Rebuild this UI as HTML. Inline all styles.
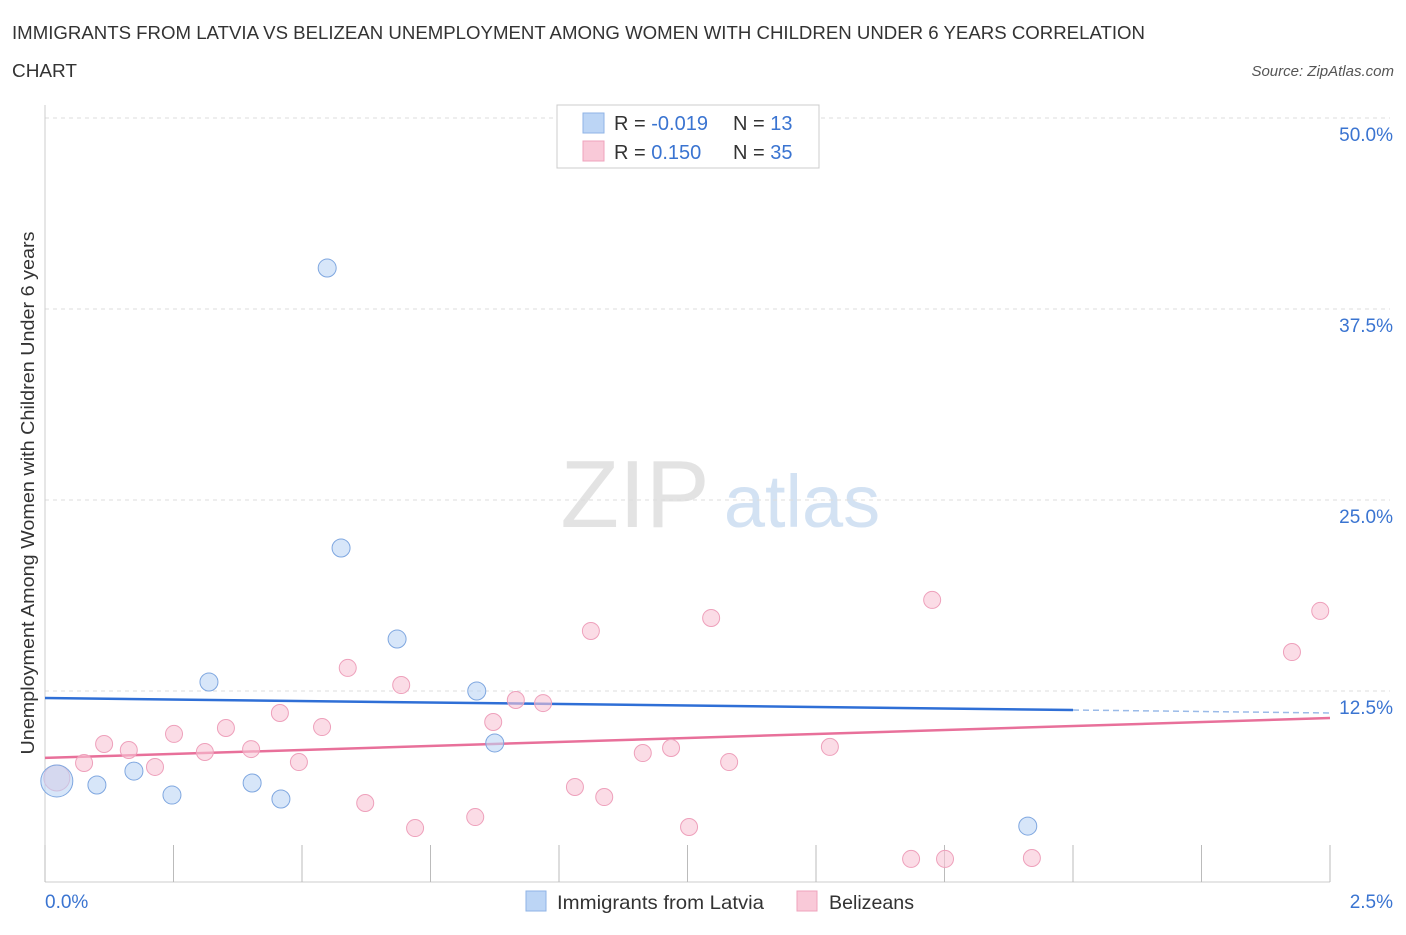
<!DOCTYPE html>
<html><head><meta charset="utf-8"><style>
body{margin:0;background:#fff;font-family:"Liberation Sans",sans-serif;}
svg text{font-family:"Liberation Sans",sans-serif;}
</style></head><body>
<svg id="chart" width="1406" height="930" viewBox="0 0 1406 930" xmlns="http://www.w3.org/2000/svg">
<text x="12" y="39" font-size="18.5" fill="#333" textLength="1133" lengthAdjust="spacingAndGlyphs">IMMIGRANTS FROM LATVIA VS BELIZEAN UNEMPLOYMENT AMONG WOMEN WITH CHILDREN UNDER 6 YEARS CORRELATION</text>
<text x="12" y="77" font-size="18.5" fill="#333" textLength="65" lengthAdjust="spacingAndGlyphs">CHART</text>
<text x="1394" y="76" font-size="15" fill="#555" font-style="italic" text-anchor="end">Source: ZipAtlas.com</text>
<g>
<text x="635" y="527" font-size="96" fill="#e3e3e3" text-anchor="middle" font-family="Liberation Serif,serif">ZIP</text>
<text x="802" y="527" font-size="74" fill="#d3e2f3" text-anchor="middle">atlas</text>
</g>
<g id="grid"></g>
<g id="axes"></g>
<g id="trends"></g>
<g id="points"></g>
<text transform="translate(34,493) rotate(-90)" font-size="18.5" fill="#333" text-anchor="middle" textLength="523" lengthAdjust="spacingAndGlyphs">Unemployment Among Women with Children Under 6 years</text>
<g>
<rect x="557" y="105" width="262" height="63" fill="#fff" stroke="#ccc"/>
<rect x="583" y="113" width="21" height="20" fill="#bcd5f5" stroke="#8fb3e6"/>
<rect x="583" y="141" width="21" height="20" fill="#f9c9d8" stroke="#efa3bc"/>
<text x="614" y="130" font-size="20" fill="#333">R = <tspan fill="#3a74d1">-0.019</tspan></text>
<text x="733" y="130" font-size="20" fill="#333">N = <tspan fill="#3a74d1"> 13</tspan></text>
<text x="614" y="159" font-size="20" fill="#333">R = <tspan fill="#3a74d1">  0.150</tspan></text>
<text x="733" y="159" font-size="20" fill="#333">N = <tspan fill="#3a74d1">35</tspan></text>
</g>
<g>
<rect x="526" y="891" width="20" height="20" fill="#bcd5f5" stroke="#8fb3e6"/>
<text x="557" y="909" font-size="19.5" fill="#333" textLength="207" lengthAdjust="spacingAndGlyphs">Immigrants from Latvia</text>
<rect x="797" y="891" width="20" height="20" fill="#f9c9d8" stroke="#efa3bc"/>
<text x="829" y="909" font-size="19.5" fill="#333" textLength="85" lengthAdjust="spacingAndGlyphs">Belizeans</text>
</g>
</svg>
<script>
const xTickLabels=["0.0%","2.5%"];
const yTicks=[12.5,25,37.5,50];
const yTickLabels=["12.5%","25.0%","37.5%","50.0%"];
const latviaX=[0.023,0.101,0.173,0.247,0.319,0.403,0.459,0.549,0.576,0.685,0.840,0.875,1.912];
const latviaY=[6.61,6.35,7.26,5.69,13.09,6.48,5.43,40.18,21.86,15.90,12.50,9.10,3.66];
const latviaR=[16,9,9,9,9,9,9,9,9,9,9,9,9];
const belizeX=[0.023,0.076,0.115,0.163,0.214,0.251,0.311,0.352,0.401,0.457,0.494,0.539,0.589,0.623,0.693,0.720,0.837,0.872,0.916,0.969,1.031,1.062,1.088,1.163,1.218,1.253,1.296,1.331,1.527,1.685,1.726,1.751,1.920,2.426,2.481];
const belizeY=[6.81,7.79,9.03,8.64,7.53,9.69,8.51,10.08,8.70,11.06,7.85,10.14,14.01,5.17,12.89,3.53,4.25,10.47,11.91,11.71,6.22,16.43,5.56,8.44,8.77,3.60,17.28,7.85,8.84,1.51,18.46,1.51,1.57,15.05,17.74];
const latviaTrend=[12.04,11.06];
const belizeTrend=[8.12,10.73];
const NS="http://www.w3.org/2000/svg";
const X0=45,X1=1330,Y0=882,Y1=118;
const sx=v=>X0+(v/2.5)*(X1-X0);
const sy=v=>Y0-(v/50)*(Y0-Y1);
function mk(tag,attrs,parent){const e=document.createElementNS(NS,tag);for(const k in attrs)e.setAttribute(k,attrs[k]);document.getElementById(parent).appendChild(e);return e;}
yTicks.forEach((t,i)=>{
 const l=mk('line',{x1:X0,x2:X1+60,y1:sy(t),y2:sy(t),stroke:'#ddd','stroke-dasharray':'4,4'},'grid');
 
 
 const tx=mk('text',{x:1393,y:sy(t)+23,'font-size':19,fill:'#3a74d1','text-anchor':'end'},'grid');
 tx.textContent=yTickLabels[i];
 
 
});
const ax=mk('line',{x1:X0,x2:X0,y1:105,y2:Y0,stroke:'#ccc'},'axes');


const bx=mk('line',{x1:X0,x2:X1,y1:Y0,y2:Y0,stroke:'#ccc'},'axes');


for(let i=0;i<=10;i++){const v=i*0.25;
 const t=mk('line',{x1:sx(v),x2:sx(v),y1:845,y2:Y0,stroke:'#bbb'},'axes');
 
 }
[[0,'start',45],[2.5,'end',1393]].forEach((d,i)=>{
 const t=mk('text',{x:d[2],y:908,'font-size':19,fill:'#3a74d1','text-anchor':d[1]},'axes');
 t.textContent=xTickLabels[i];
 
 });
const ly=v=>latviaTrend[0]+(latviaTrend[1]-latviaTrend[0])*v/2.5;
const by=v=>belizeTrend[0]+(belizeTrend[1]-belizeTrend[0])*v/2.5;
let tl=mk('line',{x1:sx(0),y1:sy(ly(0)),x2:sx(2.0),y2:sy(ly(2.0)),stroke:'#2f6fd6','stroke-width':2.5},'trends');


tl=mk('line',{x1:sx(2.0),y1:sy(ly(2.0)),x2:sx(2.5),y2:sy(ly(2.5)),stroke:'#9bbbe8','stroke-width':1.5,'stroke-dasharray':'6,4'},'trends');


tl=mk('line',{x1:sx(0),y1:sy(by(0)),x2:sx(2.5),y2:sy(by(2.5)),stroke:'#e8709a','stroke-width':2.5},'trends');


belizeX.forEach((x,i)=>{
 const c=mk('circle',{cx:sx(x),cy:sy(belizeY[i]),r:i==0?13:8.5,fill:'rgba(249,196,214,0.6)',stroke:'#eea0bb','stroke-width':1},'points');
 
 });
latviaX.forEach((x,i)=>{
 const c=mk('circle',{cx:sx(x),cy:sy(latviaY[i]),r:latviaR[i],fill:'rgba(188,213,245,0.6)',stroke:'#7fa7e0','stroke-width':1},'points');
 
 });
</script>
</body></html>
